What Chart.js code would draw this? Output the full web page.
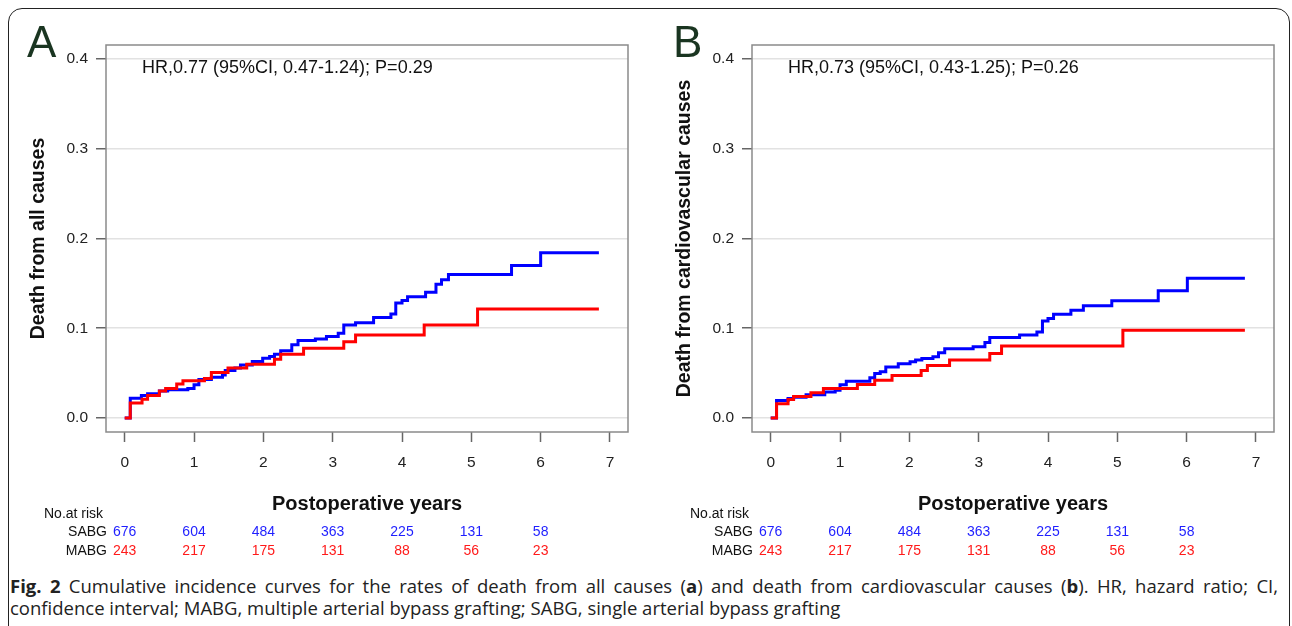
<!DOCTYPE html>
<html>
<head>
<meta charset="utf-8">
<script src="https://cdn.jsdelivr.net/npm/chart.js@4.4.0/dist/chart.umd.min.js"></script>
<style>
  body { margin: 0; background: #fff; width: 1292px; height: 626px; overflow: hidden; position: relative; }
  #frame { position: absolute; left: 8px; top: 8px; width: 1280px; height: 680px; border: 1.5px solid #222; border-radius: 14px; }
  canvas { position: absolute; top: 0; }
  #cA { left: 0; }
  #cB { left: 646px; }
  #caption { position: absolute; left: 10px; top: 575px; width: 1268px; font-family: "Open Sans", sans-serif; font-size: 18.5px; line-height: 22px; color: #222; }
  #caption .l1 { text-align: justify; text-align-last: justify; white-space: nowrap; }
</style>
</head>
<body>
<div id="frame"></div>
<canvas id="cA" width="646" height="570"></canvas>
<canvas id="cB" width="646" height="570"></canvas>
<div id="caption">
  <div class="l1"><b>Fig. 2</b> Cumulative incidence curves for the rates of death from all causes (<b>a</b>) and death from cardiovascular causes (<b>b</b>). HR, hazard ratio; CI,</div>
  <div>confidence interval; MABG, multiple arterial bypass grafting; SABG, single arterial bypass grafting</div>
</div>
<script>
// axis ticks
const xTicks = [0, 1, 2, 3, 4, 5, 6, 7];
const yTicks = [0, 0.1, 0.2, 0.3, 0.4];

// numbers at risk (same in both panels)
const riskSABG = [676, 604, 484, 363, 225, 131, 58];
const riskMABG = [243, 217, 175, 131, 88, 56, 23];

// panel A: death from all causes
const timeA_SABG = [0, 0.08, 0.24, 0.33, 0.50, 0.62, 0.91, 1.00, 1.07, 1.25, 1.41, 1.45, 1.59, 1.67, 1.84, 1.99, 2.09, 2.16, 2.25, 2.41, 2.50, 2.75, 2.91, 3.08, 3.16, 3.33, 3.59, 3.84, 3.91, 4.00, 4.08, 4.34, 4.49, 4.57, 4.67, 5.58, 6.00, 6.84];
const incA_SABG  = [0, 0.022, 0.025, 0.027, 0.030, 0.0315, 0.033, 0.037, 0.043, 0.0455, 0.048, 0.053, 0.0556, 0.059, 0.063, 0.0667, 0.0685, 0.071, 0.0748, 0.0815, 0.0863, 0.088, 0.0907, 0.0944, 0.1037, 0.106, 0.112, 0.116, 0.128, 0.131, 0.135, 0.140, 0.149, 0.154, 0.160, 0.170, 0.184, 0.184];
const timeA_MABG = [0, 0.08, 0.25, 0.33, 0.50, 0.59, 0.75, 0.84, 1.15, 1.25, 1.49, 1.76, 2.16, 2.25, 2.58, 3.16, 3.33, 4.32, 5.09, 6.84];
const incA_MABG  = [0, 0.0167, 0.021, 0.025, 0.030, 0.033, 0.038, 0.0415, 0.044, 0.0507, 0.0556, 0.060, 0.0655, 0.071, 0.0778, 0.085, 0.0926, 0.1037, 0.1215, 0.1215];

// panel B: death from cardiovascular causes
const timeB_SABG = [0, 0.084, 0.25, 0.33, 0.51, 0.78, 0.93, 1.00, 1.09, 1.43, 1.50, 1.58, 1.66, 1.84, 2.01, 2.09, 2.18, 2.34, 2.42, 2.51, 2.92, 3.09, 3.16, 3.59, 3.84, 3.92, 4.00, 4.08, 4.33, 4.51, 4.92, 5.59, 6.01, 6.84];
const incB_SABG  = [0, 0.0194, 0.0216, 0.023, 0.026, 0.029, 0.031, 0.037, 0.041, 0.0448, 0.0496, 0.0515, 0.0567, 0.0604, 0.0627, 0.0646, 0.0664, 0.0683, 0.0728, 0.0772, 0.0795, 0.084, 0.0896, 0.0925, 0.0959, 0.108, 0.111, 0.1157, 0.120, 0.125, 0.1306, 0.1418, 0.1556, 0.1556];
const timeB_MABG = [0, 0.084, 0.25, 0.33, 0.58, 0.76, 1.25, 1.50, 1.75, 2.17, 2.26, 2.58, 3.16, 3.33, 5.08, 6.84];
const incB_MABG  = [0, 0.016, 0.0205, 0.024, 0.028, 0.0328, 0.0373, 0.042, 0.0474, 0.053, 0.0586, 0.0646, 0.072, 0.0802, 0.0978, 0.0978];

const FONT = '"Liberation Sans", Arial, sans-serif';
Chart.defaults.font.family = FONT;

function toXY(t, v) {
  return t.map((x, i) => ({ x: x, y: v[i] }));
}

// box, panel letter, HR text and the risk table
const panelText = {
  id: 'panelText',
  beforeDatasetsDraw(chart) {
    const a = chart.chartArea, ctx = chart.ctx;
    ctx.save();
    ctx.strokeStyle = '#8a8a8a';
    ctx.lineWidth = 1.5;
    ctx.strokeRect(a.left, a.top, a.right - a.left, a.bottom - a.top);
    ctx.restore();
  },
  afterDraw(chart, args, opts) {
    const ctx = chart.ctx, x = chart.scales.x;
    ctx.save();
    ctx.fillStyle = '#1a3521';
    ctx.font = '44px ' + FONT;
    ctx.textBaseline = 'alphabetic';
    ctx.fillText(opts.letter, 27, 57);

    ctx.fillStyle = '#111';
    ctx.font = '18px ' + FONT;
    ctx.textBaseline = 'middle';
    ctx.fillText(opts.hr, 142, 68);

    ctx.font = '14px ' + FONT;
    ctx.fillStyle = '#111';
    ctx.textAlign = 'left';
    ctx.fillText('No.at risk', 44, 514);
    ctx.textAlign = 'right';
    ctx.fillText('SABG', 107, 532);
    ctx.fillText('MABG', 107, 551);
    ctx.textAlign = 'center';
    riskSABG.forEach((n, i) => {
      ctx.fillStyle = '#1f1fff';
      ctx.fillText(n, x.getPixelForValue(xTicks[i]), 532);
    });
    riskMABG.forEach((n, i) => {
      ctx.fillStyle = '#ff1a1a';
      ctx.fillText(n, x.getPixelForValue(xTicks[i]), 551);
    });
    ctx.restore();
  }
};

function makePanel(id, opts) {
  return new Chart(document.getElementById(id), {
    type: 'line',
    data: {
      datasets: [
        { label: 'MABG', data: toXY(opts.tM, opts.yM), borderColor: '#ff0000' },
        { label: 'SABG', data: toXY(opts.tS, opts.yS), borderColor: '#0000ff' }
      ]
    },
    options: {
      responsive: false,
      animation: false,
      layout: { padding: { left: 20, top: 45, right: 18, bottom: 48 } },
      elements: {
        point: { radius: 0 },
        line: { stepped: 'before', borderWidth: 3, fill: false }
      },
      plugins: {
        legend: { display: false },
        tooltip: { enabled: false },
        panelText: { letter: opts.letter, hr: opts.hr }
      },
      scales: {
        x: {
          type: 'linear', min: -0.27, max: 7.26,
          afterBuildTicks: s => { s.ticks = xTicks.map(v => ({ value: v })); },
          afterFit: s => { s.height = 90; },
          border: { display: false },
          grid: { drawOnChartArea: false, tickLength: 10, tickColor: '#666', tickWidth: 1.5 },
          ticks: { font: { size: 15.5 }, color: '#222', padding: 11, maxRotation: 0, callback: v => v },
          title: { display: true, text: 'Postoperative years', color: '#111',
                   font: { size: 20, weight: 'bold' }, padding: { top: 0, bottom: 6 } }
        },
        y: {
          min: -0.0156, max: 0.4156,
          afterBuildTicks: s => { s.ticks = yTicks.map(v => ({ value: v })); },
          afterFit: s => { s.width = 86; },
          border: { display: false },
          grid: { color: '#e2e2e2', lineWidth: 1.5, tickLength: 10, tickColor: '#666', tickWidth: 1.5 },
          ticks: { font: { size: 15.5 }, color: '#222', padding: 8, callback: v => v.toFixed(1) },
          title: { display: true, text: opts.ytitle, color: '#111',
                   font: { size: 19.5, weight: 'bold' }, padding: { top: 7, bottom: 0 } }
        }
      }
    },
    plugins: [panelText]
  });
}

makePanel('cA', {
  letter: 'A', hr: 'HR,0.77 (95%CI, 0.47-1.24); P=0.29', ytitle: 'Death from all causes',
  tS: timeA_SABG, yS: incA_SABG, tM: timeA_MABG, yM: incA_MABG
});
makePanel('cB', {
  letter: 'B', hr: 'HR,0.73 (95%CI, 0.43-1.25); P=0.26', ytitle: 'Death from cardiovascular causes',
  tS: timeB_SABG, yS: incB_SABG, tM: timeB_MABG, yM: incB_MABG
});
</script>
</body>
</html>
